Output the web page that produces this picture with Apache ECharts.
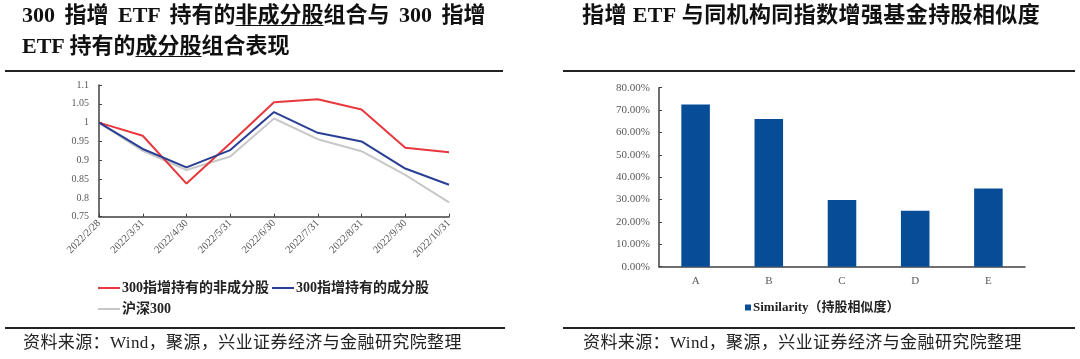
<!DOCTYPE html>
<html>
<head>
<meta charset="utf-8">
<script src="https://cdn.jsdelivr.net/npm/echarts@6/dist/echarts.min.js"></script>
<style>
  html, body { margin: 0; padding: 0; background: #fff; }
  #wrap { position: relative; width: 1080px; height: 359px; overflow: hidden; }
  #chart { position: absolute; left: 0; top: 0; width: 1080px; height: 359px; }
  .title { position: absolute; font-family: "Liberation Serif", "Noto Sans CJK SC", serif; font-weight: bold;
           font-size: 22px; line-height: 24px; color: #111; white-space: nowrap; }
  .title u { text-decoration: underline; text-decoration-thickness: 1px; text-underline-offset: 3px; }
  .rule { position: absolute; height: 2px; background: #222; }
  .src { position: absolute; font-family: "Liberation Serif", "Noto Sans CJK SC", serif; font-size: 17px;
         line-height: 20px; color: #222; white-space: nowrap; letter-spacing: 0.4px; }
</style>
</head>
<body>
<div id="wrap">
  <div id="chart"></div>
  <div class="title" style="left:22px;top:3px;word-spacing:4px;">300 指增 ETF 持有的<u>非成分股</u>组合与 300 指增</div>
  <div class="title" style="left:22px;top:34px;">ETF 持有的<u>成分股</u>组合表现</div>
  <div class="title" style="left:582px;top:3px;letter-spacing:0.4px;">指增 ETF 与同机构同指数增强基金持股相似度</div>
  <div class="rule" style="left:5px;top:70px;width:498px;"></div>
  <div class="rule" style="left:563px;top:70px;width:512px;"></div>
  <div class="rule" style="left:5px;top:327px;width:500px;"></div>
  <div class="rule" style="left:563px;top:327px;width:512px;"></div>
  <div class="src" style="left:23px;top:333px;">资料来源：Wind，聚源，兴业证券经济与金融研究院整理</div>
  <div class="src" style="left:583px;top:333px;">资料来源：Wind，聚源，兴业证券经济与金融研究院整理</div>
</div>
<script>
// ---- Left chart data ----
const dates = ['2022/2/28','2022/3/31','2022/4/30','2022/5/31','2022/6/30','2022/7/31','2022/8/31','2022/9/30','2022/10/31'];
const nonConstituent = [1.000, 0.965, 0.838, 0.945, 1.054, 1.062, 1.035, 0.933, 0.921];
const constituent    = [1.000, 0.930, 0.881, 0.927, 1.028, 0.973, 0.950, 0.878, 0.835];
const hs300          = [1.000, 0.925, 0.874, 0.910, 1.011, 0.956, 0.924, 0.861, 0.788];
const lineNames = ['300指增持有的非成分股', '300指增持有的成分股', '沪深300'];

// ---- Right chart data ----
const funds = ['A', 'B', 'C', 'D', 'E'];
const similarity = [72.5, 66.0, 29.8, 25.0, 34.9];
const barName = 'Similarity（持股相似度）';

const serif = '"Liberation Serif", "Noto Sans CJK SC", serif';
const axisColor = '#404040';
const labelColor = '#595959';

const chart = echarts.init(document.getElementById('chart'), null, { renderer: 'canvas' });
chart.setOption({
  animation: false,
  backgroundColor: 'transparent',
  grid: [
    { left: 99, top: 85, width: 350, height: 131.7 },
    { left: 659, top: 87.7, width: 366, height: 179 }
  ],
  legend: [
    {
      data: lineNames,
      left: 93, top: 274, width: 380,
      icon: 'rect', itemWidth: 22, itemHeight: 2, itemGap: 3,
      textStyle: { fontFamily: serif, fontWeight: 'bold', fontSize: 14, lineHeight: 18, color: '#222', padding: [0, 0, 0, -3] }
    },
    {
      data: [barName],
      left: 740, top: 296,
      icon: 'rect', itemWidth: 6, itemHeight: 6,
      textStyle: { fontFamily: serif, fontWeight: 'bold', fontSize: 13, color: '#222', padding: [0, 0, 0, -3] }
    }
  ],
  xAxis: [
    {
      gridIndex: 0, type: 'category', data: dates, boundaryGap: false,
      axisLine: { lineStyle: { color: axisColor, width: 1.5 } },
      axisTick: { inside: true, length: 3, interval: 0, lineStyle: { color: axisColor } },
      axisLabel: { rotate: 45, interval: 0, margin: 5, fontFamily: serif, fontSize: 10.5, color: '#505050' }
    },
    {
      gridIndex: 1, type: 'category', data: funds,
      axisLine: { lineStyle: { color: axisColor, width: 1.5 } },
      axisTick: { show: false },
      axisLabel: { margin: 9, fontFamily: serif, fontSize: 11, color: labelColor }
    }
  ],
  yAxis: [
    {
      gridIndex: 0, type: 'value', min: 0.75, max: 1.1, interval: 0.05,
      splitLine: { show: false },
      axisLine: { show: true, lineStyle: { color: axisColor, width: 1.5 } },
      axisTick: { show: true, inside: true, length: 3, lineStyle: { color: axisColor } },
      axisLabel: { margin: 10, fontFamily: serif, fontSize: 10, color: labelColor,
                   formatter: v => String(Math.round(v * 100) / 100) }
    },
    {
      gridIndex: 1, type: 'value', min: 0, max: 80, interval: 10,
      splitLine: { show: false },
      axisLine: { show: true, lineStyle: { color: axisColor, width: 1.5 } },
      axisTick: { show: true, inside: true, length: 3, lineStyle: { color: axisColor } },
      axisLabel: { margin: 9, fontFamily: serif, fontSize: 11, color: labelColor,
                   formatter: v => v.toFixed(2) + '%' }
    }
  ],
  series: [
    { name: lineNames[0], type: 'line', xAxisIndex: 0, yAxisIndex: 0, data: nonConstituent,
      symbol: 'none', lineStyle: { color: '#E8383D', width: 2 }, itemStyle: { color: '#E8383D' } },
    { name: lineNames[1], type: 'line', xAxisIndex: 0, yAxisIndex: 0, data: constituent,
      symbol: 'none', lineStyle: { color: '#2A3F94', width: 2 }, itemStyle: { color: '#2A3F94' } },
    { name: lineNames[2], type: 'line', xAxisIndex: 0, yAxisIndex: 0, data: hs300,
      symbol: 'none', lineStyle: { color: '#C8C8C8', width: 2 }, itemStyle: { color: '#C8C8C8' }, z: 1 },
    { name: barName, type: 'bar', xAxisIndex: 1, yAxisIndex: 1, data: similarity,
      barWidth: '39%', itemStyle: { color: '#064C97' } }
  ]
});
</script>
</body>
</html>
